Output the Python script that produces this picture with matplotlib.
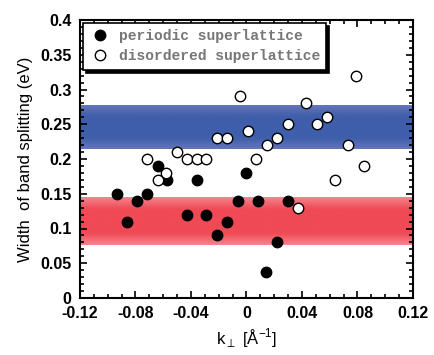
import numpy as np
import matplotlib
matplotlib.use("Agg")
import matplotlib.pyplot as plt
from matplotlib.colors import LinearSegmentedColormap

# periodic superlattice (filled)
per_k = [-0.093, -0.086, -0.079, -0.072, -0.064, -0.057, -0.036, -0.043, -0.029,
         -0.021, -0.014, -0.006, 0.000, 0.008, 0.030, 0.022, 0.014]
per_w = [0.150, 0.110, 0.140, 0.150, 0.190, 0.170, 0.170, 0.120, 0.120,
         0.090, 0.110, 0.140, 0.180, 0.140, 0.140, 0.080, 0.038]

# disordered superlattice (open)
dis_k = [-0.072, -0.050, -0.043, -0.036, -0.029, -0.058, -0.064, -0.021, -0.014,
         -0.005, 0.001, 0.079, 0.043, 0.030, 0.051, 0.058, 0.022, 0.015, 0.073,
         0.007, 0.085, 0.064, 0.037]
dis_w = [0.200, 0.210, 0.200, 0.200, 0.200, 0.180, 0.170, 0.230, 0.230,
         0.290, 0.240, 0.320, 0.280, 0.250, 0.250, 0.260, 0.230, 0.220, 0.220,
         0.200, 0.190, 0.170, 0.130]

blue_band = (0.215, 0.278)
red_band = (0.076, 0.145)

xticks = [-0.12, -0.08, -0.04, 0, 0.04, 0.08, 0.12]
xticklabels = ["-0.12", "-0.08", "-0.04", "0", "0.04", "0.08", "0.12"]
yticks = [0, 0.05, 0.1, 0.15, 0.2, 0.25, 0.3, 0.35, 0.4]
yticklabels = ["0", "0.05", "0.1", "0.15", "0.2", "0.25", "0.3", "0.35", "0.4"]

plt.rcParams['font.family'] = ['Liberation Sans', 'DejaVu Sans']
plt.rcParams['mathtext.fontset'] = 'custom'
plt.rcParams['mathtext.rm'] = 'Liberation Sans'

fig = plt.figure(figsize=(4.35, 3.55), dpi=100)
ax = fig.add_axes([80/435, 1-298/355, 333/435, 278/355])
ax.set_xlim(-0.12, 0.12)
ax.set_ylim(0, 0.4)

def band(lo, hi, c_edge, c_mid):
    cmap = LinearSegmentedColormap.from_list("b", [c_edge, c_mid, c_mid, c_mid, c_edge])
    grad = np.linspace(0, 1, 200).reshape(-1, 1)
    ax.imshow(grad, extent=(-0.12, 0.12, lo, hi), aspect='auto', cmap=cmap,
              origin='lower', zorder=1, interpolation='bilinear')

band(*blue_band, "#6676BA", "#3F5EAB")
band(*red_band, "#F5858E", "#EF4A55")
ax.set_xlim(-0.12, 0.12)
ax.set_ylim(0, 0.4)

ax.plot(per_k, per_w, 'o', color='black', markersize=7.5, zorder=3,
        label='periodic superlattice', markeredgewidth=1)
ax.plot(dis_k, dis_w, 'o', markerfacecolor='white', markeredgecolor='black',
        markersize=7.5, markeredgewidth=1, zorder=3, label='disordered superlattice')

ax.set_xticks(xticks)
ax.set_xticklabels(xticklabels)
ax.set_yticks(yticks)
ax.set_yticklabels(yticklabels)
ax.set_xticks(np.arange(-0.12, 0.1201, 0.01), minor=True)
ax.set_yticks(np.arange(0, 0.4001, 0.01), minor=True)
ax.tick_params(which='both', direction='in', top=True, right=True, width=1.2)
ax.tick_params(which='major', length=5, labelsize=11.5)
ax.tick_params(axis='x', which='major', pad=6)
ax.tick_params(axis='y', which='major', pad=6)
ax.tick_params(which='minor', length=3)
for s in ax.spines.values():
    s.set_linewidth(1.5)
for lab in ax.get_xticklabels() + ax.get_yticklabels():
    lab.set_fontweight('bold')

ax.set_ylabel("Width  of band splitting (eV)", fontsize=12, labelpad=5)
ax.set_xlabel("k$_{\\perp}$ [Å$^{-1}$]", fontsize=12, labelpad=4)

leg = ax.legend(loc='upper left', bbox_to_anchor=(0.0, 1.0), frameon=True,
                fancybox=False, shadow={'color': 'black', 'alpha': 1.0},
                prop={'family': 'Liberation Mono', 'weight': 'bold', 'size': 10.5},
                handletextpad=0.6, borderpad=0.45, labelspacing=0.4,
                handlelength=1.4, borderaxespad=0.2)
leg.get_frame().set_edgecolor('black')
leg.get_frame().set_linewidth(1.2)
for t in leg.get_texts():
    t.set_color('#777777')
leg.set_zorder(5)

fig.savefig("out.png", dpi=100)
